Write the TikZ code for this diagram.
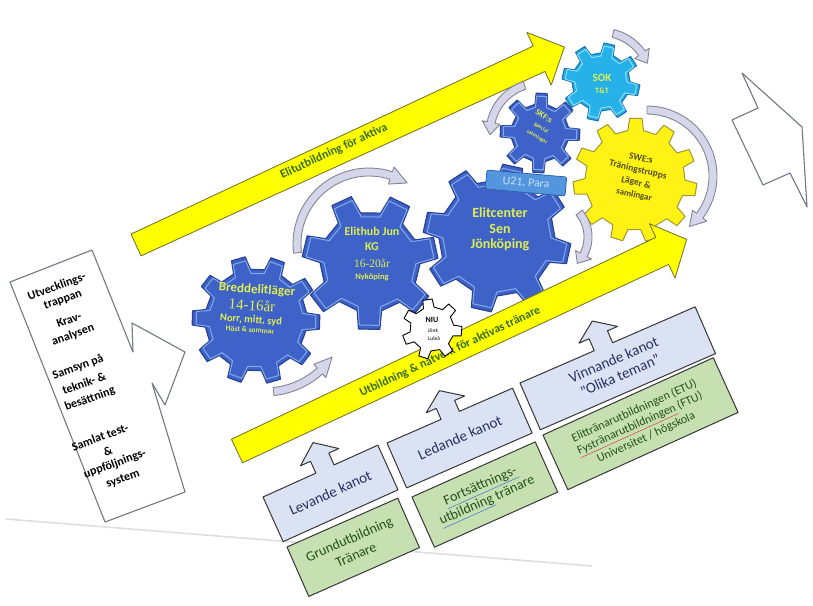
\documentclass[tikz,border=0pt]{standalone}
\usepackage{fontspec}
\setmainfont{Carlito}
\newfontfamily\timesfont{Liberation Serif}
\usetikzlibrary{positioning}

\definecolor{gearblue}{RGB}{62,98,200}
\definecolor{gearedge}{RGB}{40,66,150}
\definecolor{gearshine}{RGB}{130,170,235}
\definecolor{geartext}{RGB}{222,238,80}
\definecolor{sokcyan}{RGB}{38,178,232}
\definecolor{sokedge}{RGB}{25,120,185}
\definecolor{sokshine}{RGB}{140,220,250}
\definecolor{swefill}{RGB}{255,242,20}
\definecolor{sweedge}{RGB}{160,150,50}
\definecolor{swetext}{RGB}{80,80,30}
\definecolor{bandyellow}{RGB}{255,255,0}
\definecolor{bandedge}{RGB}{110,110,40}
\definecolor{bandtext}{RGB}{55,110,30}
\definecolor{turnfill}{RGB}{214,214,234}
\definecolor{turnedge}{RGB}{130,132,150}
\definecolor{u21fill}{RGB}{84,150,222}
\definecolor{u21edge}{RGB}{45,95,175}
\definecolor{u21text}{RGB}{200,222,248}
\definecolor{boxblue}{RGB}{218,226,243}
\definecolor{boxgreen}{RGB}{199,224,178}
\definecolor{boxedge}{RGB}{55,55,55}
\definecolor{bluetext}{RGB}{40,50,95}
\definecolor{greentext}{RGB}{35,80,30}
\definecolor{outline}{RGB}{115,120,130}
\definecolor{pageline}{RGB}{222,222,222}
\definecolor{spellblue}{RGB}{40,90,200}
\definecolor{spellred}{RGB}{210,40,40}

% gear: style, centre, teeth, root radius, tip radius, turn
\newcommand{\gearwheel}[6]{%
  \path[#1, shift={(#2)}] (#6:#4)
    \foreach \k in {1,...,#3}{
      -- ({#6+(\k-0.55)*360/#3}:#4)
      -- ({#6+(\k-0.45)*360/#3}:#5)
      -- ({#6+(\k-0.1)*360/#3}:#5)
      -- ({#6+\k*360/#3}:#4)
    } -- cycle;}

% curved block arrow: centre, radius, from, neck, tip
\newcommand{\turnarrow}[5]{%
  \path[turnband, shift={(#1)}]
    plot[domain=#3:#4, samples=30] (\x:{#2+4})
    -- (#4:{#2+9}) -- (#5:#2) -- (#4:{#2-9})
    -- plot[domain=#4:#3, samples=30] (\x:{#2-4}) -- cycle;}

\newcommand{\spell}[2]{{\color{#1}\underline{\textcolor{greentext}{#2}}}}

\tikzset{
  yellowband/.style={fill=bandyellow, draw=bandedge, line width=0.8pt},
  bandlabel/.style={text=bandtext, font=\bfseries\fontsize{12}{14}\selectfont, inner sep=0pt},
  bluecog/.style={fill=gearblue, draw=gearedge, line width=1.2pt},
  shinecog/.style={draw=gearshine, line width=1pt},
  sokcog/.style={fill=sokcyan, draw=sokedge, line width=1.2pt},
  sokshinecog/.style={draw=sokshine, line width=1pt},
  swecog/.style={fill=swefill, draw=sweedge, line width=1pt},
  niucog/.style={fill=white, draw=black, line width=0.9pt},
  cogtext/.style={text=geartext, inner sep=0pt},
  turnband/.style={fill=turnfill, draw=turnedge, line width=0.9pt},
  bluebox/.style={fill=boxblue, draw=boxedge, line width=1pt},
  greenbox/.style={fill=boxgreen, draw=boxedge, line width=1pt},
  bluelabel/.style={text=bluetext, font=\fontsize{15}{16.5}\selectfont, inner sep=0pt},
  greenlabel/.style={text=greentext, font=\fontsize{14}{16}\selectfont, inner sep=0pt},
  leftbox/.style={draw=outline, fill=white, line width=1.1pt},
  lefttext/.style={rotate=20, font=\bfseries\fontsize{12}{15}\selectfont, inner sep=0pt},
  outlinearrow/.style={draw=outline, fill=white, line width=1.1pt},
  u21box/.style={fill=u21fill, draw=u21edge, line width=0.8pt, rounded corners=2pt,
    text=u21text, font=\fontsize{12}{14}\selectfont, minimum width=80pt, minimum height=19pt, inner sep=1pt}
}

\begin{document}
\begin{tikzpicture}[x=1pt, y=1pt, line join=round]
\useasboundingbox (0,0) rectangle (813,-605);

% edge of the scanned page
\draw[pageline, line width=1.6pt] (6,-519) -- (592,-566);

% foundations on the left
\draw[leftbox] (10,-282) -- (92,-250) -- (133,-352) -- (132,-323) -- (185,-352) -- (165,-405)
  -- (152,-383) -- (185,-492) -- (105,-522) -- cycle;
\node[lefttext] (stairA) at (57,-287) {Utvecklings-};
\node[lefttext] (stairB) at (63,-300) {trappan};
\node[lefttext] (demandA) at (69,-320) {Krav-};
\node[lefttext] (demandB) at (73,-335) {analysen};
\node[lefttext] (techA) at (78,-367) {Samsyn på};
\node[lefttext] (techB) at (84,-383) {teknik- \&};
\node[lefttext] (techC) at (90,-399) {besättning};
\node[lefttext] (testA) at (100,-437) {Samlat test-};
\node[lefttext] (testB) at (108,-451) {\&};
\node[lefttext] (testC) at (115,-464) {uppföljnings-};
\node[lefttext] (testD) at (123,-479) {system};

% arrow leaving on the right
\draw[outlinearrow] (742,-73) -- (758,-108) -- (732,-120) -- (763,-185) -- (790,-173)
  -- (807,-207) -- (802,-127) -- cycle;

% upper band
\begin{scope}[shift={(136,-245)}, rotate=24.8, transform shape]
  \draw[yellowband] (0,12) -- (444,14) -- (444,29) -- (472,0) -- (444,-29) -- (444,-14) -- (0,-12) -- cycle;
  \node[bandlabel] (athletes) at (219,2) {Elitutbildning för aktiva};
\end{scope}

% gears
\gearwheel{bluecog}{256,-320}{10}{51}{64}{8}
\gearwheel{shinecog}{256,-320}{10}{47}{60}{8}
\gearwheel{bluecog}{370,-262}{7}{50}{68}{-128}
\gearwheel{shinecog}{370,-262}{7}{46}{64}{-128}
\gearwheel{bluecog}{497,-238}{8}{58}{74}{0}
\gearwheel{shinecog}{497,-238}{8}{54}{70}{0}
\gearwheel{bluecog}{540,-133}{8}{29}{40}{10}
\gearwheel{shinecog}{540,-133}{8}{26}{37}{10}
\gearwheel{sokcog}{601,-82}{8}{29}{39}{0}
\gearwheel{sokshinecog}{601,-82}{8}{26}{36}{0}
\gearwheel{swecog}{635,-180}{11}{50}{62}{0}

% lower band
\begin{scope}[shift={(237,-451)}, rotate=25.2, transform shape]
  \draw[yellowband] (0,13) -- (470,15) -- (470,30) -- (497,0) -- (470,-30) -- (470,-15) -- (0,-13) -- cycle;
  \node[bandlabel] (coaches) at (235,-1) {Utbildning \& nätverk för aktivas tränare};
\end{scope}

\gearwheel{niucog}{432,-329}{7}{22}{30}{10}

% gear texts
\node[cogtext, rotate=-4, font=\bfseries\fontsize{13}{15}\selectfont] (bredA) at (257,-290) {Breddelitläger};
\node[cogtext, rotate=-4, font=\timesfont\fontsize{15}{17}\selectfont] (bredB) at (252,-305) {14-16år};
\node[cogtext, rotate=-4, font=\bfseries\fontsize{10.5}{12}\selectfont] (bredC) at (251,-320) {Norr, mitt, syd};
\node[cogtext, rotate=-4, font=\bfseries\fontsize{7.5}{9}\selectfont] (bredD) at (250,-330) {Höst \& sommar};

\node[cogtext, font=\bfseries\fontsize{12}{14}\selectfont] (hubA) at (372,-231) {Elithub Jun};
\node[cogtext, font=\bfseries\fontsize{12}{14}\selectfont] (hubB) at (372,-247) {KG};
\node[cogtext, font=\timesfont\fontsize{11.5}{13}\selectfont] (hubC) at (372,-263) {16-20år};
\node[cogtext, font=\bfseries\fontsize{8.5}{10}\selectfont] (hubD) at (372,-277) {Nyköping};

\node[cogtext, font=\bfseries\fontsize{14}{15.5}\selectfont] (elitA) at (500,-213) {Elitcenter};
\node[cogtext, font=\bfseries\fontsize{14}{15.5}\selectfont] (elitB) at (500,-229) {Sen};
\node[cogtext, font=\bfseries\fontsize{14}{15.5}\selectfont] (elitC) at (500,-245) {Jönköping};
\node[u21box, rotate=-5] (u21) at (526,-183) {U21, Para};

\node[cogtext, rotate=-32, font=\bfseries\fontsize{8.5}{9}\selectfont] (skfA) at (544,-116) {SKF:s};
\node[cogtext, rotate=-32, font=\bfseries\fontsize{5.5}{6}\selectfont] (skfB) at (541,-128) {Special};
\node[cogtext, rotate=-32, font=\bfseries\fontsize{5.5}{6}\selectfont] (skfC) at (537,-137) {satsningar};
\node[cogtext, font=\bfseries\fontsize{11}{13}\selectfont] (sokA) at (602,-78) {SOK};
\node[cogtext, font=\bfseries\fontsize{8}{10}\selectfont] (sokB) at (602,-91) {T\&T};
\node[cogtext, text=swetext, rotate=-13, font=\bfseries\fontsize{9.5}{12}\selectfont] (sweA) at (641,-158) {SWE:s};
\node[cogtext, text=swetext, rotate=-13, font=\bfseries\fontsize{9.5}{12}\selectfont] (sweB) at (638,-170) {Träningstrupps};
\node[cogtext, text=swetext, rotate=-13, font=\bfseries\fontsize{9.5}{12}\selectfont] (sweC) at (636,-183) {Läger \&};
\node[cogtext, text=swetext, rotate=-13, font=\bfseries\fontsize{9}{12}\selectfont] (sweD) at (634,-195) {samlingar};
\node[cogtext, text=black, font=\bfseries\fontsize{8}{9}\selectfont] (niuA) at (432,-320) {NIU};
\node[cogtext, text=black, font=\fontsize{5.5}{6}\selectfont] (niuB) at (433,-331) {Jönk};
\node[cogtext, text=black, font=\fontsize{5.5}{6}\selectfont] (niuC) at (434,-339) {Luleå};

% turning arrows
\turnarrow{265,-310}{82}{-84}{-48}{-35}
\turnarrow{369,-244}{72}{-173}{-288}{-302}
\turnarrow{550,-237}{38}{40}{-28}{-44}
\turnarrow{540,-133}{50}{-252}{-192}{-178}
\turnarrow{601,-82}{50}{-284}{-325}{-338}
\turnarrow{647,-176}{66}{-270}{-397}{-410}

% coach education, column 1
\begin{scope}[shift={(263,-497)}, rotate=24.3, transform shape]
  \draw[bluebox] (0,0) -- (58,0) -- (58,13) -- (47,13) -- (68,29) -- (89,13) -- (78,13) -- (78,0)
    -- (126,0) -- (126,-49) -- (0,-49) -- cycle;
  \node[bluelabel] (living) at (63,-24) {Levande kanot};
\end{scope}
\begin{scope}[shift={(287,-547)}, rotate=23.8, transform shape]
  \draw[greenbox] (0,0) rectangle (121,-54);
  \node[greenlabel] (basicA) at (60,-19) {Grundutbildning};
  \node[greenlabel] (basicB) at (60,-35) {Tränare};
\end{scope}

% column 2
\begin{scope}[shift={(387,-443)}, rotate=23.6, transform shape]
  \draw[bluebox] (0,0) -- (59,0) -- (59,12) -- (48,12) -- (69,27) -- (90,12) -- (79,12) -- (79,0)
    -- (137,0) -- (137,-49) -- (0,-49) -- cycle;
  \node[bluelabel] (leading) at (69,-24) {Ledande kanot};
\end{scope}
\begin{scope}[shift={(412,-497)}, rotate=24.1, transform shape]
  \draw[greenbox] (0,0) rectangle (135,-55);
  \node[greenlabel] (furtherA) at (67,-19) {\spell{spellblue}{Fortsättnings-}};
  \node[greenlabel] (furtherB) at (67,-35) {\spell{spellblue}{utbildning} tränare};
\end{scope}

% column 3
\begin{scope}[shift={(520,-383)}, rotate=23.5, transform shape]
  \draw[bluebox] (0,0) -- (81,0) -- (81,13) -- (70,13) -- (91,28) -- (112,13) -- (101,13) -- (101,0)
    -- (191,0) -- (191,-51) -- (0,-51) -- cycle;
  \node[bluelabel] (winningA) at (95,-16) {Vinnande kanot};
  \node[bluelabel] (winningB) at (95,-33) {”Olika teman”};
\end{scope}
\begin{scope}[shift={(543,-435)}, rotate=24.4, transform shape]
  \draw[greenbox] (0,0) rectangle (187,-60);
  \node[greenlabel, font=\fontsize{12}{14}\selectfont] (eliteA) at (93,-16) {Elittränarutbildningen (ETU)};
  \node[greenlabel, font=\fontsize{12}{14}\selectfont] (eliteB) at (93,-30.5) {\spell{spellred}{Fystränarutbildningen} (FTU)};
  \node[greenlabel, font=\fontsize{12}{14}\selectfont] (eliteC) at (93,-45) {Universitet / högskola};
\end{scope}

\end{tikzpicture}
\end{document}
